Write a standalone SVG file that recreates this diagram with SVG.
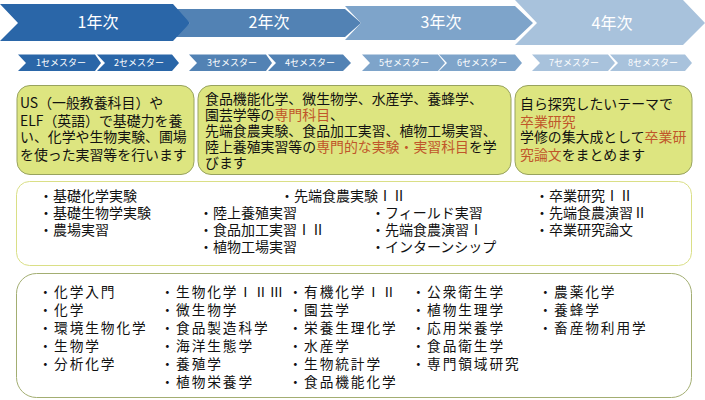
<svg xmlns="http://www.w3.org/2000/svg" width="705" height="400" viewBox="0 0 705 400">
<style>
text{font-family:"Noto Sans CJK JP","Noto Sans",sans-serif}
.y{font-size:16px;fill:#fff;text-anchor:middle}
.s{font-size:9px;fill:#fff;text-anchor:middle}
.d{font-size:13.9px;fill:#111}
.r{fill:#c0562a}
.g{fill:#dde580;stroke:#98a35e;stroke-width:1}
.l{font-size:14px;fill:#111}
.m{font-size:13.7px;fill:#111;letter-spacing:1.9px}
.c1{fill:#2a66a8}.c2{fill:#5282b4}.c3{fill:#7ea4ca}.c4{fill:#a8c2dc}
</style>
<g id="year-arrows">
<g id="year4"><polygon class="c4" points="515,0 683,0 705,23 683,45 515,45 537,23"/><text class="y" x="612" y="29">4年次</text></g>
<g id="year3"><polygon class="c3" points="345,6 515,6 533,23 515,40 345,40 361,23"/><text class="y" x="441" y="28">3年次</text></g>
<g id="year2"><polygon class="c2" points="173,9 345,9 361,23 345,37 173,37 190,23"/><text class="y" x="269" y="28">2年次</text></g>
<g id="year1"><polygon class="c1" points="0,4 173,4 190,23 173,41 0,41 18,23"/><text class="y" x="98" y="28">1年次</text></g>
</g>
<g id="semesters">
<g id="sem1"><polygon class="c1" points="18,54.500 95,54.500 101,63 95,71 18,71 26,63"/><text class="s" x="61" y="66">1セメスター</text></g>
<g id="sem2"><polygon class="c1" points="97,54.500 172,54.500 179,63 172,71 97,71 105,63"/><text class="s" x="139" y="66">2セメスター</text></g>
<g id="sem3"><polygon class="c2" points="189,54.500 266,54.500 272,63 266,71 189,71 197,63"/><text class="s" x="232" y="66">3セメスター</text></g>
<g id="sem4"><polygon class="c2" points="268,54.500 343,54.500 351,63 343,71 268,71 276,63"/><text class="s" x="310" y="66">4セメスター</text></g>
<g id="sem5"><polygon class="c3" points="362,54.500 438,54.500 445,63 438,71 362,71 370,63"/><text class="s" x="404" y="66">5セメスター</text></g>
<g id="sem6"><polygon class="c3" points="439,54.500 515,54.500 522,63 515,71 439,71 447,63"/><text class="s" x="482" y="66">6セメスター</text></g>
<g id="sem7"><polygon class="c4" points="532,54.500 608,54.500 615,63 608,71 532,71 540,63"/><text class="s" x="574" y="66">7セメスター</text></g>
<g id="sem8"><polygon class="c4" points="610,54.500 685,54.500 692,63 685,71 610,71 618,63"/><text class="s" x="653" y="66">8セメスター</text></g>
</g>
<g id="box1"><rect class="g" x="17" y="85.500" width="177" height="89" rx="13"/>
<text class="d" x="20" y="108">US（一般教養科目）や</text>
<text class="d" x="20" y="126">ELF（英語）で基礎力を養</text>
<text class="d" x="20" y="142">い、化学や生物実験、圃場</text>
<text class="d" x="20" y="160">を使った実習等を行います</text></g>
<g id="box2"><rect class="g" x="198" y="85.500" width="313" height="89" rx="13"/>
<text class="d" x="205" y="104">食品機能化学、微生物学、水産学、養蜂学、</text>
<text class="d" x="205" y="120">園芸学等の<tspan class="r">専門科目</tspan>、</text>
<text class="d" x="205" y="136">先端食農実験、食品加工実習、植物工場実習、</text>
<text class="d" x="205" y="152">陸上養殖実習等の<tspan class="r">専門的な実験・実習科目</tspan>を学</text>
<text class="d" x="205" y="168">びます</text></g>
<g id="box3"><rect class="g" x="515" y="85.500" width="177" height="89" rx="13"/>
<text class="d" x="520" y="109">自ら探究したいテーマで</text>
<text class="d r" x="520" y="127">卒業研究</text>
<text class="d" x="520" y="142">学修の集大成として<tspan class="r">卒業研</tspan></text>
<text class="d" x="520" y="160"><tspan class="r">究論文</tspan>をまとめます</text></g>
<g id="practical"><rect x="16.500" y="181.500" width="675" height="84" rx="13" fill="#fff" stroke="#dadf86"/>
<text class="l" x="39" y="201">・基礎化学実験</text>
<text class="l" x="39" y="218">・基礎生物学実験</text>
<text class="l" x="39" y="235">・農場実習</text>
<text class="l" x="280" y="201">・先端食農実験ⅠⅡ</text>
<text class="l" x="199" y="218">・陸上養殖実習</text>
<text class="l" x="199" y="235">・食品加工実習ⅠⅡ</text>
<text class="l" x="199" y="252">・植物工場実習</text>
<text class="l" x="371" y="218">・フィールド実習</text>
<text class="l" x="371" y="235">・先端食農演習Ⅰ</text>
<text class="l" x="371" y="252">・インターンシップ</text>
<text class="l" x="535" y="201">・卒業研究ⅠⅡ</text>
<text class="l" x="535" y="218">・先端食農演習Ⅱ</text>
<text class="l" x="535" y="235">・卒業研究論文</text></g>
<g id="lectures"><rect x="16.500" y="273.500" width="675" height="124" rx="20" fill="#fff" stroke="#a3ae72"/>
<text class="m" x="38.500" y="297">・化学入門</text>
<text class="m" x="38.500" y="315">・化学</text>
<text class="m" x="38.500" y="333">・環境生物化学</text>
<text class="m" x="38.500" y="351">・生物学</text>
<text class="m" x="38.500" y="369">・分析化学</text>
<text class="m" x="160.500" y="297">・生物化学ⅠⅡⅢ</text>
<text class="m" x="160.500" y="315">・微生物学</text>
<text class="m" x="160.500" y="333">・食品製造科学</text>
<text class="m" x="160.500" y="351">・海洋生態学</text>
<text class="m" x="160.500" y="369">・養殖学</text>
<text class="m" x="160.500" y="387">・植物栄養学</text>
<text class="m" x="288.500" y="297">・有機化学ⅠⅡ</text>
<text class="m" x="288.500" y="315">・園芸学</text>
<text class="m" x="288.500" y="333">・栄養生理化学</text>
<text class="m" x="288.500" y="351">・水産学</text>
<text class="m" x="288.500" y="369">・生物統計学</text>
<text class="m" x="288.500" y="387">・食品機能化学</text>
<text class="m" x="411.500" y="297">・公衆衛生学</text>
<text class="m" x="411.500" y="315">・植物生理学</text>
<text class="m" x="411.500" y="333">・応用栄養学</text>
<text class="m" x="411.500" y="351">・食品衛生学</text>
<text class="m" x="411.500" y="369">・専門領域研究</text>
<text class="m" x="538.500" y="297">・農薬化学</text>
<text class="m" x="538.500" y="315">・養蜂学</text>
<text class="m" x="538.500" y="333">・畜産物利用学</text></g>
</svg>
